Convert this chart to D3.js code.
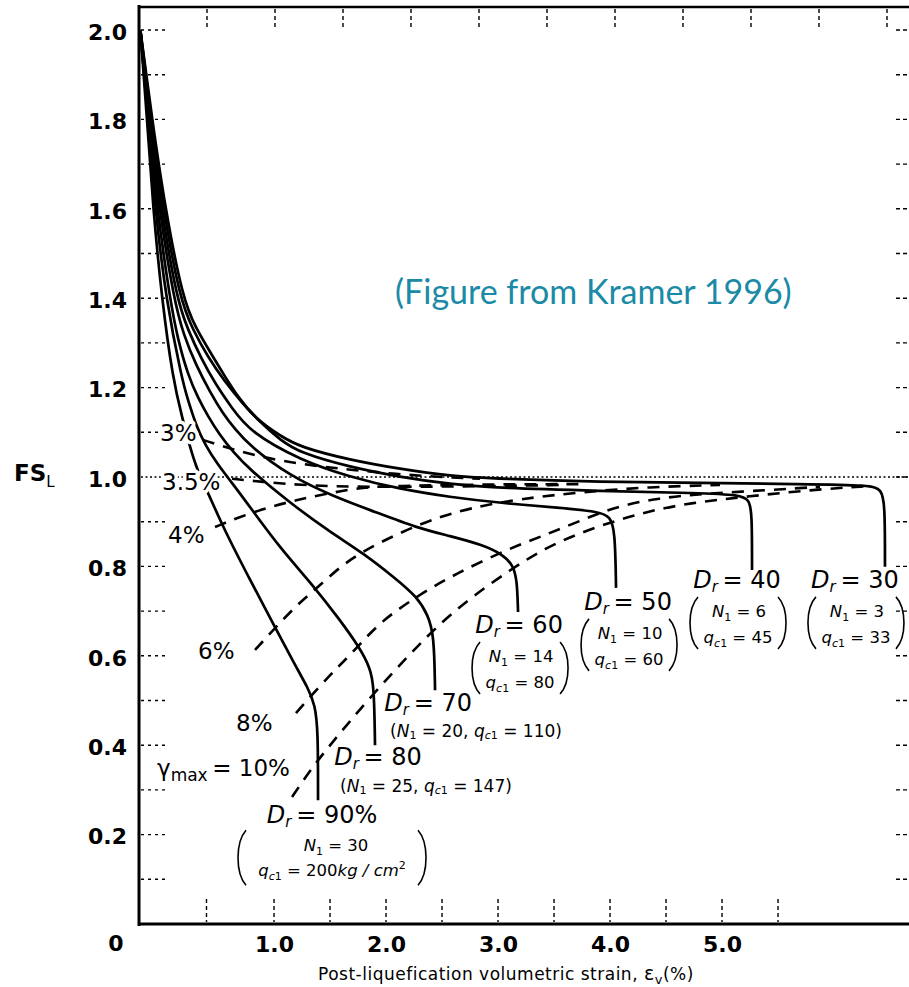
<!DOCTYPE html>
<html>
<head>
<meta charset="utf-8">
<script src="https://cdn.jsdelivr.net/npm/d3@7"></script>
<style>
  html, body { margin: 0; padding: 0; background: #fff; }
  svg { display: block; }
  text { fill: #000; }
</style>
</head>
<body>
<svg id="chart" width="909" height="987" font-family="DejaVu Sans, sans-serif"></svg>
<script>
// FS_L versus post-liquefaction volumetric strain, one curve per relative density.
// Each point: [volumetric strain (%), factor of safety FS_L]
const dr90 = [[0.01,2.0],[0.059,1.803],[0.104,1.602],[0.170,1.396],[0.252,1.217],[0.319,1.134],[0.378,1.067],[0.430,1.016],[0.519,0.960],[0.622,0.888],[0.822,0.770],[1.009,0.664],[1.188,0.579],[1.304,0.528],[1.366,0.490],[1.393,0.434],[1.393,0.277]];
const dr80 = [[0.01,2.0],[0.067,1.803],[0.119,1.602],[0.200,1.396],[0.319,1.217],[0.363,1.172],[0.422,1.116],[0.489,1.072],[0.585,1.027],[0.689,0.987],[0.822,0.933],[1.054,0.841],[1.348,0.758],[1.589,0.680],[1.768,0.617],[1.857,0.573],[1.893,0.535],[1.902,0.400]];
const dr70 = [[0.01,2.0],[0.067,1.803],[0.133,1.602],[0.230,1.396],[0.289,1.306],[0.363,1.228],[0.437,1.177],[0.511,1.136],[0.593,1.096],[0.696,1.056],[0.822,1.016],[1.143,0.942],[1.500,0.877],[1.795,0.830],[2.080,0.774],[2.277,0.732],[2.375,0.691],[2.429,0.647],[2.438,0.523]];
const dr60 = [[0.01,2.0],[0.074,1.803],[0.148,1.602],[0.259,1.396],[0.333,1.315],[0.422,1.251],[0.526,1.190],[0.615,1.145],[0.711,1.107],[0.822,1.069],[1.143,1.002],[1.527,0.957],[1.902,0.922],[2.277,0.886],[2.571,0.868],[2.866,0.848],[3.045,0.826],[3.134,0.803],[3.170,0.770],[3.179,0.698]];
const dr50 = [[0.01,2.0],[0.081,1.803],[0.163,1.602],[0.281,1.396],[0.363,1.329],[0.459,1.266],[0.570,1.206],[0.689,1.154],[0.822,1.101],[1.232,1.038],[1.679,1.000],[2.125,0.973],[2.571,0.955],[3.018,0.942],[3.554,0.931],[3.911,0.922],[4.000,0.911],[4.045,0.881],[4.054,0.752]];
const dr40 = [[0.01,2.0],[0.089,1.803],[0.178,1.602],[0.304,1.396],[0.400,1.329],[0.511,1.268],[0.637,1.213],[0.763,1.166],[0.896,1.123],[1.054,1.083],[1.232,1.054],[1.679,1.022],[2.125,1.000],[2.571,0.984],[3.018,0.975],[3.911,0.969],[4.804,0.964],[5.161,0.960],[5.241,0.949],[5.268,0.922],[5.268,0.792]];
const dr30 = [[0.01,2.0],[0.096,1.803],[0.193,1.602],[0.326,1.396],[0.422,1.333],[0.526,1.280],[0.630,1.228],[0.733,1.179],[0.859,1.132],[1.054,1.092],[1.232,1.067],[1.679,1.038],[2.125,1.018],[2.571,1.002],[3.018,0.996],[3.911,0.989],[4.804,0.987],[5.696,0.984],[6.339,0.982],[6.420,0.971],[6.455,0.944],[6.455,0.799]];

// Lines of constant maximum shear strain (dashed)
const gamma10 = [[1.161,0.284],[1.277,0.327],[1.393,0.367],[1.634,0.441],[1.902,0.519],[2.188,0.597],[2.438,0.662],[2.750,0.729],[3.107,0.792],[3.420,0.841],[3.732,0.875],[4.045,0.902],[4.357,0.924],[4.714,0.942],[5.250,0.957],[5.786,0.971],[6.321,0.980]];
const gamma8 = [[1.196,0.472],[1.393,0.528],[1.563,0.573],[1.750,0.620],[1.946,0.676],[2.304,0.738],[2.634,0.785],[3.107,0.841],[3.420,0.870],[3.732,0.902],[4.063,0.935],[4.446,0.953],[4.804,0.962],[5.429,0.971],[5.875,0.978]];
const gamma6 = [[0.859,0.613],[1.009,0.662],[1.205,0.714],[1.384,0.752],[1.589,0.799],[1.795,0.834],[2.080,0.870],[2.393,0.904],[2.750,0.931],[3.196,0.951],[3.732,0.966],[4.357,0.978],[4.982,0.982]];
const gamma4 = [[0.563,0.888],[0.748,0.911],[0.948,0.931],[1.205,0.949],[1.500,0.964],[1.813,0.978],[2.125,0.980],[2.571,0.982],[3.196,0.984],[3.732,0.984]];
const gamma35 = [[0.689,0.996],[0.911,0.989],[1.232,0.982],[1.679,0.978],[2.304,0.978],[3.018,0.980],[3.554,0.982]];
const gamma3 = [[0.474,1.083],[0.674,1.063],[0.933,1.043],[1.232,1.029],[1.679,1.016],[2.304,1.002],[2.839,0.996]];

// Labels
const densityLabels = ["90%", "80", "70", "60", "50", "40", "30"];
const n1Labels = ["30", "25", "20", "14", "10", "6", "3"];
const qc1Labels = ["200", "147", "110", "80", "60", "45", "33"];
const gammaLabels = ["3%", "3.5%", "4%", "6%", "8%", "10%"];
const xTickLabels = [1, 2, 3, 4, 5];
const yTickLabels = [0.2, 0.4, 0.6, 0.8, 1.0, 1.2, 1.4, 1.6, 1.8, 2.0];
const yMinorTicks = [0.1, 0.2, 0.3, 0.4, 0.5, 0.6, 0.7, 0.8, 0.9, 1.0, 1.1, 1.2, 1.3, 1.4, 1.5, 1.6, 1.7, 1.8, 1.9, 2.0];
const xMinorTicks = [0.5, 1.0, 1.5, 2.0, 2.5, 3.0, 3.5, 4.0, 4.5, 5.0, 5.5];

const svg = d3.select("#chart");

// Scales: the first unit of strain is drawn wider than the rest, as on the printed axis.
const x = d3.scaleLinear().domain([0, 1, 5]).range([139, 274, 722]);
const y = d3.scaleLinear().domain([0, 2]).range([924, 30]);
const xTop = d3.scaleLinear().domain([0, 1]).range([139, 275]);

const grid = svg.append("g");

// left minor ticks (dotted)
grid.selectAll(".ly").data(yMinorTicks.filter(v => v !== 1.0)).join("line")
  .attr("x1", 141).attr("x2", 165)
  .attr("y1", d => y(d)).attr("y2", d => y(d))
  .attr("stroke", "#000").attr("stroke-width", 1.4).attr("stroke-dasharray", "3,4");
// right minor ticks
grid.selectAll(".ry").data(yMinorTicks).join("line")
  .attr("x1", 896).attr("x2", 909)
  .attr("y1", d => y(d)).attr("y2", d => y(d))
  .attr("stroke", "#000").attr("stroke-width", 1.4).attr("stroke-dasharray", "4,3");
// FS = 1.0 reference line
grid.append("line")
  .attr("x1", 141).attr("x2", 909).attr("y1", y(1.0)).attr("y2", y(1.0))
  .attr("stroke", "#000").attr("stroke-width", 1.5).attr("stroke-dasharray", "2,2.5");
// top ticks
grid.selectAll(".tx").data(xMinorTicks).join("line")
  .attr("x1", d => xTop(d)).attr("x2", d => xTop(d))
  .attr("y1", 9).attr("y2", 29)
  .attr("stroke", "#000").attr("stroke-width", 1.4).attr("stroke-dasharray", "4,3");
// bottom ticks
grid.selectAll(".bx").data(xMinorTicks).join("line")
  .attr("x1", d => x(d)).attr("x2", d => x(d))
  .attr("y1", 899).attr("y2", 922)
  .attr("stroke", "#000").attr("stroke-width", 1.4).attr("stroke-dasharray", "4,3");

const line = d3.line()
  .x(d => x(d[0])).y(d => y(d[1]))
  .curve(d3.curveBasis);

// dashed constant-strain lines
const gammaLines = [gamma3, gamma35, gamma4, gamma6, gamma8, gamma10];
svg.append("g").selectAll("path").data(gammaLines).join("path")
  .attr("d", line)
  .attr("fill", "none").attr("stroke", "#000")
  .attr("stroke-width", 2.6).attr("stroke-dasharray", "12,9");

// relative density curves
const densityCurves = [dr90, dr80, dr70, dr60, dr50, dr40, dr30];
svg.append("g").selectAll("path").data(densityCurves).join("path")
  .attr("d", line)
  .attr("fill", "none").attr("stroke", "#000")
  .attr("stroke-width", 2.7).attr("stroke-linejoin", "round");

// frame
const frame = svg.append("g").attr("stroke", "#000");
frame.append("line").attr("x1", 139).attr("x2", 139).attr("y1", 5).attr("y2", 926).attr("stroke-width", 3);
frame.append("line").attr("x1", 138).attr("x2", 909).attr("y1", 7).attr("y2", 7).attr("stroke-width", 2.6);
frame.append("line").attr("x1", 138).attr("x2", 909).attr("y1", 924).attr("y2", 924).attr("stroke-width", 3);

// axes labels
const yAxis = svg.append("g").attr("transform", "translate(139,0)")
  .call(d3.axisLeft(y).tickValues(yTickLabels).tickFormat(d3.format(".1f")).tickSize(0).tickPadding(12));
yAxis.select(".domain").remove();
yAxis.attr("font-family", null).attr("font-size", null);
yAxis.selectAll("text").attr("font-weight", "bold").attr("font-size", 22).attr("dy", "0.42em");

const xAxis = svg.append("g").attr("transform", "translate(0,924)")
  .call(d3.axisBottom(x).tickValues(xTickLabels).tickFormat(d3.format(".1f")).tickSize(0).tickPadding(12));
xAxis.select(".domain").remove();
xAxis.attr("font-family", null).attr("font-size", null);
xAxis.selectAll("text").attr("font-weight", "bold").attr("font-size", 22);

svg.append("text").attr("x", 116).attr("y", 951).attr("text-anchor", "middle")
  .attr("font-weight", "bold").attr("font-size", 22).text("0");

const fs = svg.append("text").attr("x", 14).attr("y", 481).attr("font-size", 23).attr("font-weight", "bold");
fs.append("tspan").text("FS");
fs.append("tspan").attr("font-size", 15).attr("font-weight", "normal").attr("dy", 6).text("L");

const xt = svg.append("text").attr("x", 318).attr("y", 980).attr("font-size", 17).attr("letter-spacing", 0.5);
xt.append("tspan").text("Post-liquefication volumetric strain, ");
xt.append("tspan").attr("font-size", 19).text("\u025B");
xt.append("tspan").attr("font-size", 13).attr("dy", 4).text("v");
xt.append("tspan").attr("dy", -4).text("(%)");

// constant-strain labels
const halo = sel => sel.attr("stroke", "#fff").attr("stroke-width", 7)
  .attr("stroke-linejoin", "round").attr("paint-order", "stroke");
const gLab = svg.append("g").attr("font-size", 23);
const gammaPos = [[160, y(1.1) + 9], [162, 490], [168, 543], [198, 659], [236, 731]];
gammaLabels.slice(0, 5).forEach((t, i) => {
  gLab.append("text").attr("x", gammaPos[i][0]).attr("y", gammaPos[i][1]).text(t).call(halo);
});
const gm = gLab.append("text").attr("x", 157).attr("y", 776).call(halo);
gm.append("tspan").text("\u03B3");
gm.append("tspan").attr("font-size", 17).attr("dy", 5).text("max");
gm.append("tspan").attr("dy", -5).text("\u2009= " + gammaLabels[5]);

// density labels
function drLabel(cx, by, val) {
  const t = svg.append("text").attr("x", cx).attr("y", by).attr("text-anchor", "middle")
    .attr("font-size", 24).call(halo);
  t.append("tspan").attr("font-style", "italic").text("D");
  t.append("tspan").attr("font-style", "italic").attr("font-size", 15).attr("dy", 4).text("r");
  t.append("tspan").attr("dy", -4).text("\u2009= " + val);
}
function nLabel(cx, by, val) {
  const t = svg.append("text").attr("x", cx).attr("y", by).attr("text-anchor", "middle").attr("font-size", 16.5);
  t.append("tspan").attr("font-style", "italic").text("N");
  t.append("tspan").attr("font-size", 11).attr("dy", 4).text("1");
  t.append("tspan").attr("dy", -4).text(" = " + val);
}
function qLabel(cx, by, val, unit) {
  const t = svg.append("text").attr("x", cx).attr("y", by).attr("text-anchor", "middle").attr("font-size", 16.5);
  t.append("tspan").attr("font-style", "italic").text("q");
  t.append("tspan").attr("font-style", "italic").attr("font-size", 11).attr("dy", 4).text("c");
  t.append("tspan").attr("font-size", 11).text("1");
  t.append("tspan").attr("dy", -4).text(" = " + val);
  if (unit) {
    t.append("tspan").attr("font-style", "italic").text("kg / cm");
    t.append("tspan").attr("font-size", 11).attr("dy", -7).text("2");
  }
}
function inlineLabel(lx, by, n, q) {
  const t = svg.append("text").attr("x", lx).attr("y", by).attr("font-size", 17);
  t.append("tspan").text("(");
  t.append("tspan").attr("font-style", "italic").text("N");
  t.append("tspan").attr("font-size", 11).attr("dy", 2).text("1");
  t.append("tspan").attr("dy", -2).text(" = " + n + ", ");
  t.append("tspan").attr("font-style", "italic").text("q");
  t.append("tspan").attr("font-style", "italic").attr("font-size", 11).attr("dy", 2).text("c");
  t.append("tspan").attr("font-size", 11).text("1");
  t.append("tspan").attr("dy", -2).text(" = " + q + ")");
}
function parens(xl, xr, top, bot) {
  const w = 8, h = bot - top;
  const c = w / 3;
  svg.append("path")
    .attr("d", `M${xl + w},${top} C${xl - c},${top + h * 0.22} ${xl - c},${bot - h * 0.22} ${xl + w},${bot}`)
    .attr("fill", "none").attr("stroke", "#000").attr("stroke-width", 1.6);
  svg.append("path")
    .attr("d", `M${xr - w},${top} C${xr + c},${top + h * 0.22} ${xr + c},${bot - h * 0.22} ${xr - w},${bot}`)
    .attr("fill", "none").attr("stroke", "#000").attr("stroke-width", 1.6);
}

// end points of the density curves anchor their labels
const ends = densityCurves.map(c => c[c.length - 1]);
const ex = i => x(ends[i][0]), ey = i => y(ends[i][1]);

// Dr = 90%
drLabel(ex(0) + 4, ey(0) + 23, densityLabels[0]);
nLabel(ex(0) + 18, ey(0) + 51, n1Labels[0]);
qLabel(ex(0) + 14, ey(0) + 76, qc1Labels[0], true);
parens(ex(0) - 80, ex(0) + 108, ey(0) + 30, ey(0) + 85);
// Dr = 80
drLabel(ex(1) + 3, ey(1) + 20, densityLabels[1]);
inlineLabel(ex(1) - 35, ey(1) + 47, n1Labels[1], qc1Labels[1]);
// Dr = 70
drLabel(ex(2) - 7, ey(2) + 21, densityLabels[2]);
inlineLabel(ex(2) - 45, ey(2) + 47, n1Labels[2], qc1Labels[2]);
// Dr = 60 .. 30 (stacked blocks)
const blockDx = [0, 0, 0, 1, 12, -15, -30];
const blockDy = [0, 0, 0, 21, 22, 18, 21];
for (let i = 3; i < 7; i++) {
  const cx = ex(i) + blockDx[i];
  const by = ey(i) + blockDy[i];
  drLabel(cx, by, densityLabels[i]);
  nLabel(cx + 2, by + 29, n1Labels[i]);
  qLabel(cx + 1, by + 55, qc1Labels[i], false);
  parens(cx - 47, cx + 49, by + 9, by + 61);
}

// source note
svg.append("text").attr("x", 395).attr("y", 304)
  .style("font-family", "Lato, 'Open Sans', sans-serif").attr("font-size", 34)
  .style("fill", "#1b8aa6").text("(Figure from Kramer 1996)");
</script>
</body>
</html>
